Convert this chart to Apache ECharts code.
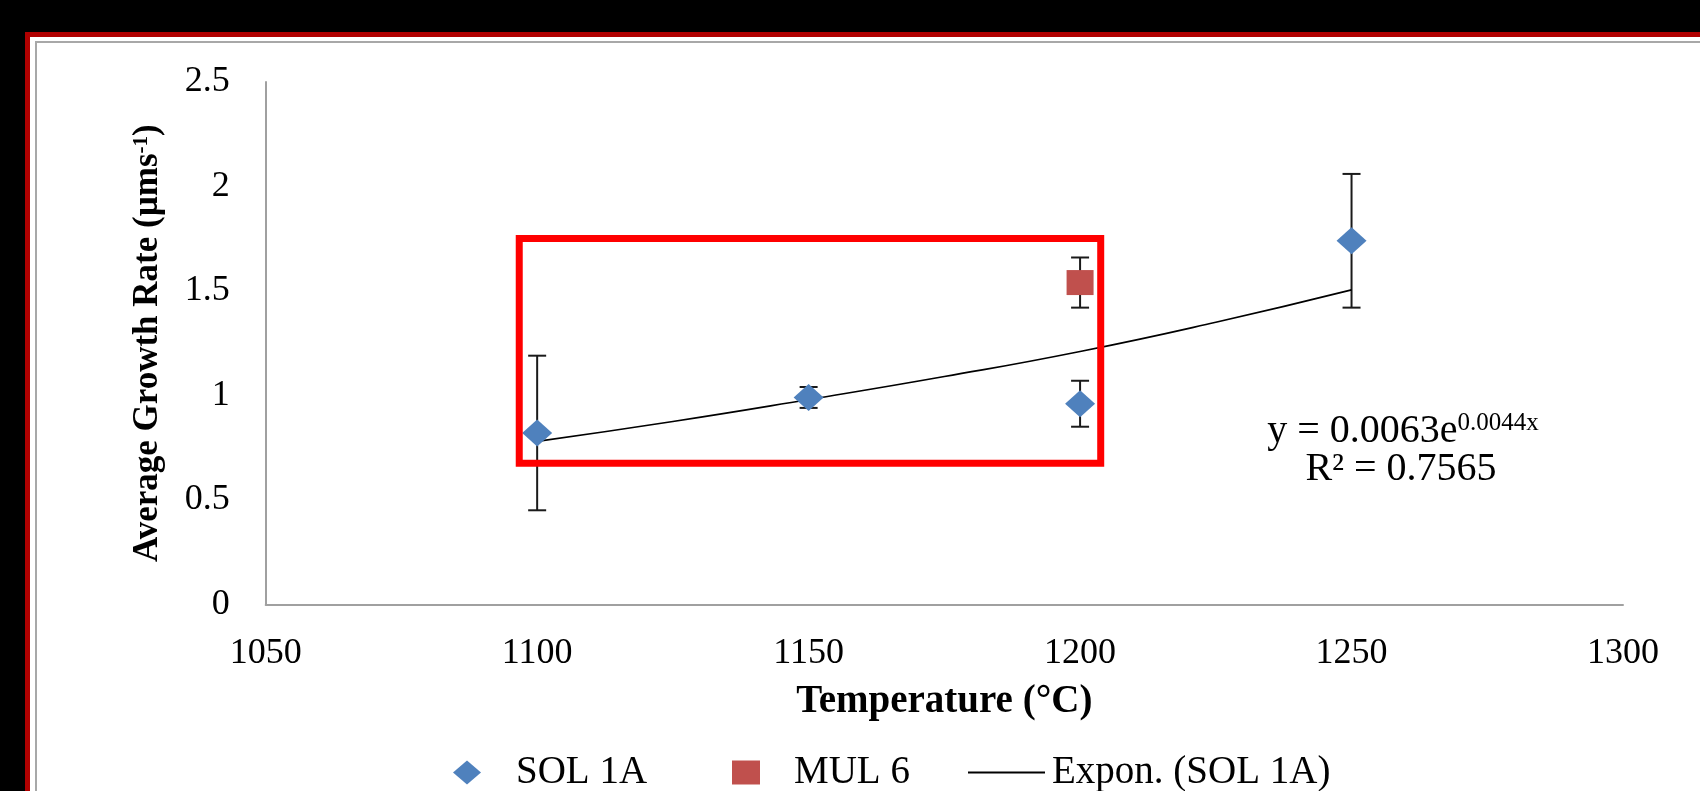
<!DOCTYPE html>
<html><head><meta charset="utf-8">
<script src="https://cdn.jsdelivr.net/npm/echarts@6/dist/echarts.min.js"></script>
<style>html,body{margin:0;padding:0;background:#000;}#c{width:1700px;height:791px;}</style>
</head><body><div id="c"></div>
<script>
// ---- data ----
const xTicks = [1050, 1100, 1150, 1200, 1250, 1300];
const yTicks = [0, 0.5, 1, 1.5, 2, 2.5];
const solX = [1100, 1150, 1200, 1250];
const solY = [0.82, 0.99, 0.96, 1.74];
const solErr = [0.37, 0.05, 0.11, 0.32];
const mulX = [1200];
const mulY = [1.54];
const mulErr = [0.12];
const trendX = [1100, 1125, 1150, 1175, 1200, 1225, 1250];
const trendY = [0.78, 0.875, 0.98, 1.09, 1.21, 1.35, 1.505];
const boxX = [1096.7, 1203.8];   // highlight rectangle (data coords)
const boxY = [0.675, 1.751];
const eqLine1 = ['y = 0.0063e', '0.0044x'];
const eqLine2 = 'R² = 0.7565';

const FONT = 'Liberation Serif';
const solData = solX.map((x, i) => [x, solY[i]]);
const mulData = mulX.map((x, i) => [x, mulY[i]]);
const solErrData = solX.map((x, i) => [x, solY[i], solErr[i]]);
const mulErrData = mulX.map((x, i) => [x, mulY[i], mulErr[i]]);
const trendData = trendX.map((x, i) => [x, trendY[i]]);

function errItem(params, api) {
  const x = api.value(0), y = api.value(1), e = api.value(2);
  const top = api.coord([x, y + e]);
  const bot = api.coord([x, y - e]);
  const w = 9;
  const st = { stroke: '#1a1a1a', lineWidth: 2 };
  return { type: 'group', children: [
    { type: 'line', shape: { x1: top[0], y1: top[1], x2: bot[0], y2: bot[1] }, style: st },
    { type: 'line', shape: { x1: top[0] - w, y1: top[1], x2: top[0] + w, y2: top[1] }, style: st },
    { type: 'line', shape: { x1: bot[0] - w, y1: bot[1], x2: bot[0] + w, y2: bot[1] }, style: st }
  ]};
}

const legendText = { fontFamily: FONT, fontSize: 39, color: '#000' };
const chart = echarts.init(document.getElementById('c'), null, { renderer: 'canvas' });
chart.setOption({
  backgroundColor: '#000',
  animation: false,
  textStyle: { fontFamily: FONT, color: '#000' },
  graphic: [
    { type: 'rect', z: -10, silent: true, shape: { x: 27.5, y: 34.5, width: 1720, height: 820 },
      style: { fill: '#fff', stroke: '#B00000', lineWidth: 5 } },
    { type: 'rect', z: -9, silent: true, shape: { x: 36, y: 42, width: 1720, height: 820 },
      style: { fill: 'none', stroke: '#A8A8A8', lineWidth: 2 } },
    { type: 'text', z: 5, x: 1403, y: 431, style: {
        text: '{n|' + eqLine1[0] + '}{s|' + eqLine1[1] + '}',
        align: 'center', verticalAlign: 'middle',
        rich: { n: { fontFamily: FONT, fontSize: 40, color: '#000' },
                s: { fontFamily: FONT, fontSize: 25, color: '#000', verticalAlign: 'top' } } } },
    { type: 'text', z: 5, x: 1401, y: 469, style: {
        text: eqLine2, align: 'center', verticalAlign: 'middle',
        fontFamily: FONT, fontSize: 40, fill: '#000' } }
  ],
  grid: { left: 265.7, right: 77, top: 82, bottom: 186.7, containLabel: false },
  legend: [
    { left: 448, top: 748, itemWidth: 28, itemHeight: 24, symbolKeepAspect: false,
      textStyle: Object.assign({ padding: [0, 0, 0, 30] }, legendText),
      data: [{ name: 'SOL 1A', icon: 'diamond' }] },
    { left: 727, top: 748, itemWidth: 28, itemHeight: 24, symbolKeepAspect: false,
      textStyle: Object.assign({ padding: [0, 0, 0, 29] }, legendText),
      data: [{ name: 'MUL 6', icon: 'rect' }] },
    { left: 963, top: 748, itemWidth: 77, itemHeight: 2, symbolKeepAspect: false,
      textStyle: Object.assign({ padding: [0, 0, 0, 2] }, legendText),
      data: [{ name: 'Expon. (SOL 1A)', icon: 'rect', itemStyle: { color: '#000' } }] }
  ],
  xAxis: {
    type: 'value', min: xTicks[0], max: xTicks[xTicks.length - 1], interval: xTicks[1] - xTicks[0],
    name: 'Temperature (°C)', nameLocation: 'middle', nameGap: 78,
    nameTextStyle: { fontFamily: FONT, fontSize: 39, fontWeight: 'bold', color: '#000' },
    axisLine: { show: true, lineStyle: { color: '#A0A0A0', width: 2 } },
    axisTick: { show: false }, splitLine: { show: false },
    axisLabel: { fontFamily: FONT, fontSize: 36, color: '#000', margin: 31, formatter: v => String(v) }
  },
  yAxis: {
    type: 'value', min: yTicks[0], max: yTicks[yTicks.length - 1], interval: yTicks[1] - yTicks[0],
    name: '{b|Average Growth Rate (µms}{sup|-1}{b|)}', nameLocation: 'middle', nameGap: 100,
    nameTextStyle: { fontFamily: FONT, fontSize: 35, fontWeight: 'bold', color: '#000',
      rich: { b: { fontFamily: FONT, fontSize: 35, fontWeight: 'bold', color: '#000' },
              sup: { fontFamily: FONT, fontSize: 21, fontWeight: 'bold', color: '#000', verticalAlign: 'top' } } },
    axisLine: { show: true, lineStyle: { color: '#A0A0A0', width: 2 } },
    axisTick: { show: false }, splitLine: { show: false },
    axisLabel: { fontFamily: FONT, fontSize: 36, color: '#000', margin: 36, formatter: v => String(v) }
  },
  series: [
    { name: 'SOL 1A err', type: 'custom', renderItem: errItem, data: solErrData, z: 2, silent: true },
    { name: 'MUL 6 err', type: 'custom', renderItem: errItem, data: mulErrData, z: 2, silent: true },
    { name: 'Expon. (SOL 1A)', type: 'line', data: trendData, smooth: true, symbol: 'none', z: 3,
      lineStyle: { color: '#000', width: 1.6 }, itemStyle: { color: '#000' } },
    { name: 'SOL 1A', type: 'scatter', data: solData, symbol: 'diamond', symbolSize: [30, 27], z: 4,
      itemStyle: { color: '#4F81BD', opacity: 1 } },
    { name: 'MUL 6', type: 'scatter', data: mulData, symbol: 'rect', symbolSize: [27, 25], z: 4,
      itemStyle: { color: '#C0504D', opacity: 1 } },
    { name: 'box', type: 'custom', z: 10, silent: true, data: [[boxX[0], boxY[1], boxX[1], boxY[0]]],
      renderItem: function (params, api) {
        const p1 = api.coord([api.value(0), api.value(1)]);
        const p2 = api.coord([api.value(2), api.value(3)]);
        return { type: 'rect', shape: { x: p1[0], y: p1[1], width: p2[0] - p1[0], height: p2[1] - p1[1] },
                 style: { fill: 'none', stroke: '#FF0000', lineWidth: 7 } };
      } }
  ]
});
</script></body></html>
